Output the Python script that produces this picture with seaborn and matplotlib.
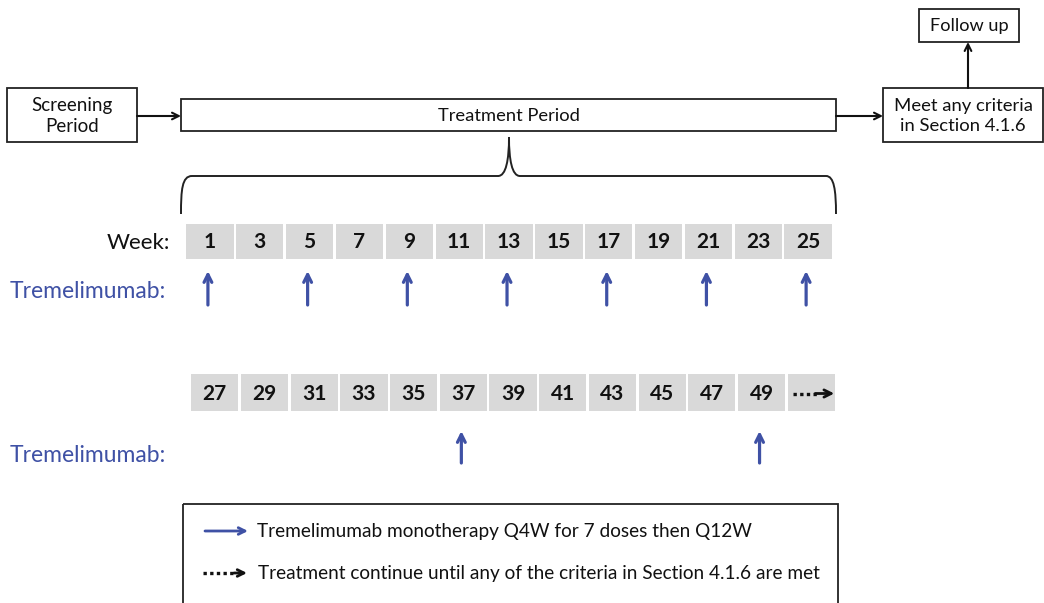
import matplotlib
matplotlib.use("Agg")
import matplotlib.pyplot as plt
from matplotlib.patches import Rectangle, PathPatch
from matplotlib.path import Path
import seaborn as sns

sns.set_theme(style="white")
plt.rcParams['font.family'] = ['Lato', 'DejaVu Sans']

# ---- data ----
weeks_row1 = [1, 3, 5, 7, 9, 11, 13, 15, 17, 19, 21, 23, 25]
weeks_row2 = [27, 29, 31, 33, 35, 37, 39, 41, 43, 45, 47, 49, None]
dose_weeks = [1, 5, 9, 13, 17, 21, 25, 37, 49]
drug_label = "Tremelimumab:"
legend_texts = ["Tremelimumab monotherapy Q4W for 7 doses then Q12W",
                "Treatment continue until any of the criteria in Section 4.1.6 are met"]

BLUE = "#3F51A5"
GREY = "#D9D9D9"

W, H = 1044, 603
fig = plt.figure(figsize=(W / 100, H / 100), dpi=100)
ax = fig.add_axes([0, 0, 1, 1])
ax.set_xlim(0, W)
ax.set_ylim(H, 0)
ax.axis("off")

def box(x0, y0, x1, y1, text=None, fs=13.3):
    ax.add_patch(Rectangle((x0, y0), x1 - x0, y1 - y0, fill=False, ec="#222222", lw=1.3))
    if text:
        ax.text((x0 + x1) / 2, (y0 + y1) / 2 + 1, text, ha="center", va="center",
                fontsize=fs, color="#111111", linespacing=1.35)

def arrow(x0, y0, x1, y1, color="#111111", lw=1.5, ms=12):
    ax.annotate("", xy=(x1, y1), xytext=(x0, y0),
                arrowprops=dict(arrowstyle="->", color=color, lw=lw,
                                mutation_scale=ms, shrinkA=0, shrinkB=0))

# top flow boxes
box(7, 88, 137, 142, "Screening\nPeriod", fs=13.5)
box(181, 99, 836, 131, "Treatment Period", fs=13.2)
box(883, 88, 1043, 142, "Meet any criteria\nin Section 4.1.6", fs=13.3)
box(919, 9, 1019, 42, "Follow up", fs=13.1)
arrow(137, 116, 181, 116)
arrow(836, 116, 883, 116)
arrow(968, 88, 968, 42)

# brace
verts = [(181, 214), (181, 190), (182, 176), (192, 176),
         (498, 176),
         (506, 176), (509, 160), (509, 137),
         (509, 160), (512, 176), (520, 176),
         (826, 176),
         (834, 176), (836, 190), (836, 214)]
codes = [Path.MOVETO, Path.CURVE4, Path.CURVE4, Path.CURVE4,
         Path.LINETO,
         Path.CURVE4, Path.CURVE4, Path.CURVE4,
         Path.CURVE4, Path.CURVE4, Path.CURVE4,
         Path.LINETO,
         Path.CURVE4, Path.CURVE4, Path.CURVE4]
ax.add_patch(PathPatch(Path(verts, codes), fill=False, ec="#222222", lw=1.4))

# week rows
def week_row(weeks, x0, pitch, y0, y1, arrow_y0, arrow_y1):
    xs = [x0 + i * pitch + pitch / 2 for i in range(len(weeks))]
    ax.bar(xs, [y1 - y0] * len(weeks), width=pitch - 2.5, bottom=y0,
           color=GREY, edgecolor="none")
    for x, wk in zip(xs, weeks):
        if wk is None:
            ym = (y0 + y1) / 2 + 1
            ax.plot([x - 18, x + 6], [ym, ym], color="#111111",
                    lw=2.4, ls=(0, (1, 1.0)))
            arrow(x + 4, ym, x + 23, ym, lw=2.0, ms=13)
        else:
            ax.text(x, (y0 + y1) / 2 + 1, str(wk), ha="center", va="center",
                    fontsize=15, fontweight="bold", color="#111111")
            if wk in dose_weeks:
                arrow(x - 2, arrow_y0, x - 2, arrow_y1, color=BLUE, lw=2.3, ms=14)
    return xs

week_row(weeks_row1, 185, 49.85, 224, 259, 305, 271)
week_row(weeks_row2, 190, 49.7, 374, 411, 463, 431)

ax.text(170, 243, "Week:", ha="right", va="center", fontsize=16, color="#111111")
ax.text(10, 292, drug_label, ha="left", va="center", fontsize=16.5, color=BLUE)
ax.text(10, 456, drug_label, ha="left", va="center", fontsize=16.5, color=BLUE)

# legend box
ax.add_patch(Rectangle((183, 504), 838 - 183, 120, fill=False, ec="#222222", lw=1.3))
arrow(205, 531, 248, 531, color=BLUE, lw=2.0, ms=12)
ax.text(257, 532, legend_texts[0], ha="left", va="center", fontsize=13.7, color="#111111")
ax.plot([203, 236], [573, 573], color="#111111", lw=2.4, ls=(0, (1, 1.0)))
arrow(234, 573, 247, 573, lw=2.0, ms=12)
ax.text(258, 574, legend_texts[1], ha="left", va="center", fontsize=13.7, color="#111111")

fig.savefig("out.png", dpi=100)
